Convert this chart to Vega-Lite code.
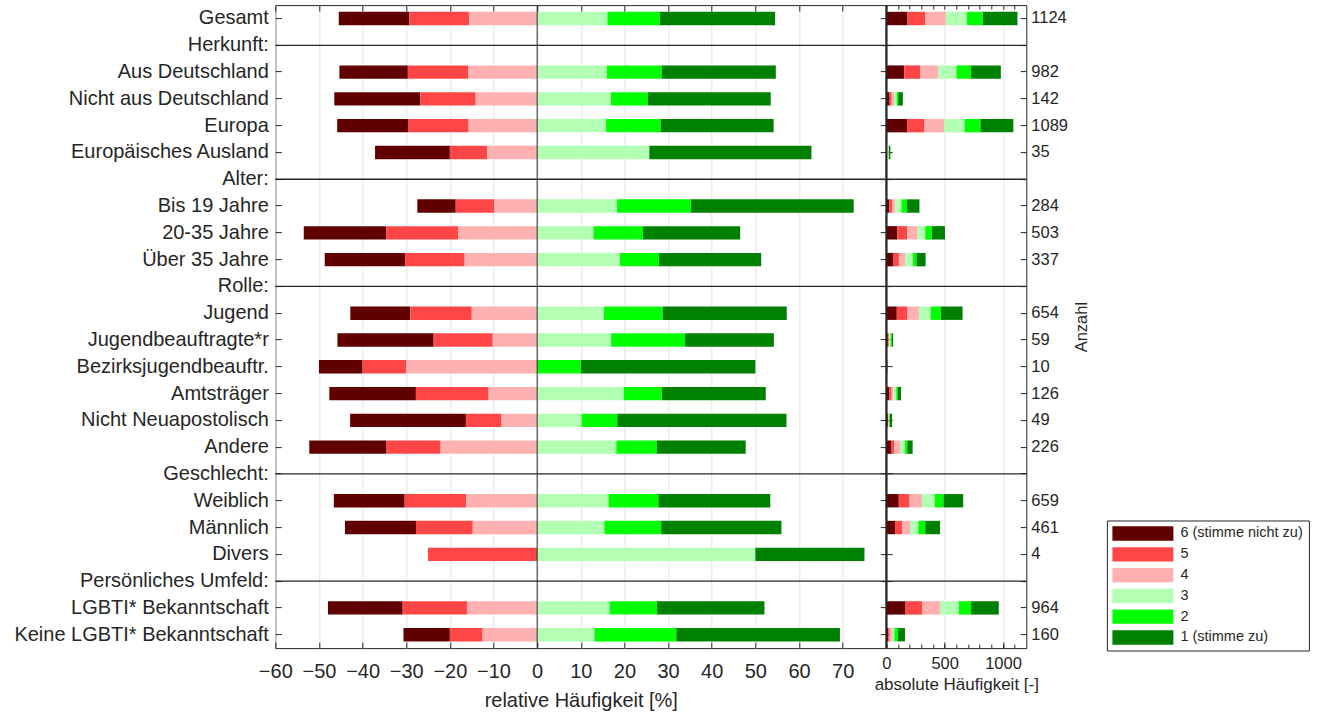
{
  "$schema": "https://vega.github.io/schema/vega-lite/v6.json",
  "padding": {"left": 12.3, "top": 3.1, "right": 5, "bottom": 5},
  "background": "white",
  "config": {
    "font": "Liberation Sans",
    "view": {"stroke": "#262626", "strokeWidth": 1},
    "axis": {
      "labelFont": "Liberation Sans",
      "titleFont": "Liberation Sans",
      "labelColor": "#262626",
      "titleColor": "#262626",
      "tickColor": "#262626",
      "titleFontWeight": "normal",
      "domain": false,
      "gridColor": "#e4e4e4",
      "gridWidth": 1
    },
    "legend": {"labelFont": "Liberation Sans", "labelColor": "#262626"}
  },
  "datasets": {
    "werte": [
      {"gruppe": "Gesamt", "stufe": 6, "rel": -16.19, "abs": 182},
      {"gruppe": "Gesamt", "stufe": 5, "rel": -13.70, "abs": 154},
      {"gruppe": "Gesamt", "stufe": 4, "rel": -15.57, "abs": 175},
      {"gruppe": "Gesamt", "stufe": 3, "rel": 16.10, "abs": 181},
      {"gruppe": "Gesamt", "stufe": 2, "rel": 12.01, "abs": 135},
      {"gruppe": "Gesamt", "stufe": 1, "rel": 26.42, "abs": 297},
      {"gruppe": "Aus Deutschland", "stufe": 6, "rel": -15.68, "abs": 154},
      {"gruppe": "Aus Deutschland", "stufe": 5, "rel": -13.85, "abs": 136},
      {"gruppe": "Aus Deutschland", "stufe": 4, "rel": -15.78, "abs": 155},
      {"gruppe": "Aus Deutschland", "stufe": 3, "rel": 15.99, "abs": 157},
      {"gruppe": "Aus Deutschland", "stufe": 2, "rel": 12.53, "abs": 123},
      {"gruppe": "Aus Deutschland", "stufe": 1, "rel": 26.17, "abs": 257},
      {"gruppe": "Nicht aus Deutschland", "stufe": 6, "rel": -19.72, "abs": 28},
      {"gruppe": "Nicht aus Deutschland", "stufe": 5, "rel": -12.68, "abs": 18},
      {"gruppe": "Nicht aus Deutschland", "stufe": 4, "rel": -14.08, "abs": 20},
      {"gruppe": "Nicht aus Deutschland", "stufe": 3, "rel": 16.90, "abs": 24},
      {"gruppe": "Nicht aus Deutschland", "stufe": 2, "rel": 8.45, "abs": 12},
      {"gruppe": "Nicht aus Deutschland", "stufe": 1, "rel": 28.17, "abs": 40},
      {"gruppe": "Europa", "stufe": 6, "rel": -16.35, "abs": 178},
      {"gruppe": "Europa", "stufe": 5, "rel": -13.77, "abs": 150},
      {"gruppe": "Europa", "stufe": 4, "rel": -15.70, "abs": 171},
      {"gruppe": "Europa", "stufe": 3, "rel": 15.79, "abs": 172},
      {"gruppe": "Europa", "stufe": 2, "rel": 12.49, "abs": 136},
      {"gruppe": "Europa", "stufe": 1, "rel": 25.90, "abs": 282},
      {"gruppe": "Europäisches Ausland", "stufe": 6, "rel": -17.14, "abs": 6},
      {"gruppe": "Europäisches Ausland", "stufe": 5, "rel": -8.57, "abs": 3},
      {"gruppe": "Europäisches Ausland", "stufe": 4, "rel": -11.43, "abs": 4},
      {"gruppe": "Europäisches Ausland", "stufe": 3, "rel": 25.71, "abs": 9},
      {"gruppe": "Europäisches Ausland", "stufe": 1, "rel": 37.14, "abs": 13},
      {"gruppe": "Bis 19 Jahre", "stufe": 6, "rel": -8.80, "abs": 25},
      {"gruppe": "Bis 19 Jahre", "stufe": 5, "rel": -8.80, "abs": 25},
      {"gruppe": "Bis 19 Jahre", "stufe": 4, "rel": -9.86, "abs": 28},
      {"gruppe": "Bis 19 Jahre", "stufe": 3, "rel": 18.31, "abs": 52},
      {"gruppe": "Bis 19 Jahre", "stufe": 2, "rel": 16.90, "abs": 48},
      {"gruppe": "Bis 19 Jahre", "stufe": 1, "rel": 37.32, "abs": 106},
      {"gruppe": "20-35 Jahre", "stufe": 6, "rel": -18.89, "abs": 95},
      {"gruppe": "20-35 Jahre", "stufe": 5, "rel": -16.50, "abs": 83},
      {"gruppe": "20-35 Jahre", "stufe": 4, "rel": -18.09, "abs": 91},
      {"gruppe": "20-35 Jahre", "stufe": 3, "rel": 12.92, "abs": 65},
      {"gruppe": "20-35 Jahre", "stufe": 2, "rel": 11.33, "abs": 57},
      {"gruppe": "20-35 Jahre", "stufe": 1, "rel": 22.27, "abs": 112},
      {"gruppe": "Über 35 Jahre", "stufe": 6, "rel": -18.40, "abs": 62},
      {"gruppe": "Über 35 Jahre", "stufe": 5, "rel": -13.65, "abs": 46},
      {"gruppe": "Über 35 Jahre", "stufe": 4, "rel": -16.62, "abs": 56},
      {"gruppe": "Über 35 Jahre", "stufe": 3, "rel": 18.99, "abs": 64},
      {"gruppe": "Über 35 Jahre", "stufe": 2, "rel": 8.90, "abs": 30},
      {"gruppe": "Über 35 Jahre", "stufe": 1, "rel": 23.44, "abs": 79},
      {"gruppe": "Jugend", "stufe": 6, "rel": -13.76, "abs": 90},
      {"gruppe": "Jugend", "stufe": 5, "rel": -14.07, "abs": 92},
      {"gruppe": "Jugend", "stufe": 4, "rel": -14.98, "abs": 98},
      {"gruppe": "Jugend", "stufe": 3, "rel": 15.29, "abs": 100},
      {"gruppe": "Jugend", "stufe": 2, "rel": 13.46, "abs": 88},
      {"gruppe": "Jugend", "stufe": 1, "rel": 28.44, "abs": 186},
      {"gruppe": "Jugendbeauftragte*r", "stufe": 6, "rel": -22.03, "abs": 13},
      {"gruppe": "Jugendbeauftragte*r", "stufe": 5, "rel": -13.56, "abs": 8},
      {"gruppe": "Jugendbeauftragte*r", "stufe": 4, "rel": -10.17, "abs": 6},
      {"gruppe": "Jugendbeauftragte*r", "stufe": 3, "rel": 16.95, "abs": 10},
      {"gruppe": "Jugendbeauftragte*r", "stufe": 2, "rel": 16.95, "abs": 10},
      {"gruppe": "Jugendbeauftragte*r", "stufe": 1, "rel": 20.34, "abs": 12},
      {"gruppe": "Bezirksjugendbeauftr.", "stufe": 6, "rel": -10.0, "abs": 1},
      {"gruppe": "Bezirksjugendbeauftr.", "stufe": 5, "rel": -10.0, "abs": 1},
      {"gruppe": "Bezirksjugendbeauftr.", "stufe": 4, "rel": -30.0, "abs": 3},
      {"gruppe": "Bezirksjugendbeauftr.", "stufe": 2, "rel": 10.0, "abs": 1},
      {"gruppe": "Bezirksjugendbeauftr.", "stufe": 1, "rel": 40.0, "abs": 4},
      {"gruppe": "Amtsträger", "stufe": 6, "rel": -19.84, "abs": 25},
      {"gruppe": "Amtsträger", "stufe": 5, "rel": -16.67, "abs": 21},
      {"gruppe": "Amtsträger", "stufe": 4, "rel": -11.11, "abs": 14},
      {"gruppe": "Amtsträger", "stufe": 3, "rel": 19.84, "abs": 25},
      {"gruppe": "Amtsträger", "stufe": 2, "rel": 8.73, "abs": 11},
      {"gruppe": "Amtsträger", "stufe": 1, "rel": 23.81, "abs": 30},
      {"gruppe": "Nicht Neuapostolisch", "stufe": 6, "rel": -26.53, "abs": 13},
      {"gruppe": "Nicht Neuapostolisch", "stufe": 5, "rel": -8.16, "abs": 4},
      {"gruppe": "Nicht Neuapostolisch", "stufe": 4, "rel": -8.16, "abs": 4},
      {"gruppe": "Nicht Neuapostolisch", "stufe": 3, "rel": 10.20, "abs": 5},
      {"gruppe": "Nicht Neuapostolisch", "stufe": 2, "rel": 8.16, "abs": 4},
      {"gruppe": "Nicht Neuapostolisch", "stufe": 1, "rel": 38.78, "abs": 19},
      {"gruppe": "Andere", "stufe": 6, "rel": -17.70, "abs": 40},
      {"gruppe": "Andere", "stufe": 5, "rel": -12.39, "abs": 28},
      {"gruppe": "Andere", "stufe": 4, "rel": -22.12, "abs": 50},
      {"gruppe": "Andere", "stufe": 3, "rel": 18.14, "abs": 41},
      {"gruppe": "Andere", "stufe": 2, "rel": 9.29, "abs": 21},
      {"gruppe": "Andere", "stufe": 1, "rel": 20.35, "abs": 46},
      {"gruppe": "Weiblich", "stufe": 6, "rel": -16.24, "abs": 107},
      {"gruppe": "Weiblich", "stufe": 5, "rel": -14.11, "abs": 93},
      {"gruppe": "Weiblich", "stufe": 4, "rel": -16.24, "abs": 107},
      {"gruppe": "Weiblich", "stufe": 3, "rel": 16.39, "abs": 108},
      {"gruppe": "Weiblich", "stufe": 2, "rel": 11.38, "abs": 75},
      {"gruppe": "Weiblich", "stufe": 1, "rel": 25.64, "abs": 169},
      {"gruppe": "Männlich", "stufe": 6, "rel": -16.27, "abs": 75},
      {"gruppe": "Männlich", "stufe": 5, "rel": -13.02, "abs": 60},
      {"gruppe": "Männlich", "stufe": 4, "rel": -14.75, "abs": 68},
      {"gruppe": "Männlich", "stufe": 3, "rel": 15.40, "abs": 71},
      {"gruppe": "Männlich", "stufe": 2, "rel": 13.02, "abs": 60},
      {"gruppe": "Männlich", "stufe": 1, "rel": 27.55, "abs": 127},
      {"gruppe": "Divers", "stufe": 5, "rel": -25.0, "abs": 1},
      {"gruppe": "Divers", "stufe": 3, "rel": 50.0, "abs": 2},
      {"gruppe": "Divers", "stufe": 1, "rel": 25.0, "abs": 1},
      {"gruppe": "LGBTI* Bekanntschaft", "stufe": 6, "rel": -17.12, "abs": 165},
      {"gruppe": "LGBTI* Bekanntschaft", "stufe": 5, "rel": -14.73, "abs": 142},
      {"gruppe": "LGBTI* Bekanntschaft", "stufe": 4, "rel": -16.08, "abs": 155},
      {"gruppe": "LGBTI* Bekanntschaft", "stufe": 3, "rel": 16.60, "abs": 160},
      {"gruppe": "LGBTI* Bekanntschaft", "stufe": 2, "rel": 10.89, "abs": 105},
      {"gruppe": "LGBTI* Bekanntschaft", "stufe": 1, "rel": 24.59, "abs": 237},
      {"gruppe": "Keine LGBTI* Bekanntschaft", "stufe": 6, "rel": -10.63, "abs": 17},
      {"gruppe": "Keine LGBTI* Bekanntschaft", "stufe": 5, "rel": -7.50, "abs": 12},
      {"gruppe": "Keine LGBTI* Bekanntschaft", "stufe": 4, "rel": -12.50, "abs": 20},
      {"gruppe": "Keine LGBTI* Bekanntschaft", "stufe": 3, "rel": 13.13, "abs": 21},
      {"gruppe": "Keine LGBTI* Bekanntschaft", "stufe": 2, "rel": 18.75, "abs": 30},
      {"gruppe": "Keine LGBTI* Bekanntschaft", "stufe": 1, "rel": 37.50, "abs": 60}
    ],
    "gruppen": [
      {"gruppe": "Gesamt", "n": 1124},
      {"gruppe": "Aus Deutschland", "n": 982},
      {"gruppe": "Nicht aus Deutschland", "n": 142},
      {"gruppe": "Europa", "n": 1089},
      {"gruppe": "Europäisches Ausland", "n": 35},
      {"gruppe": "Bis 19 Jahre", "n": 284},
      {"gruppe": "20-35 Jahre", "n": 503},
      {"gruppe": "Über 35 Jahre", "n": 337},
      {"gruppe": "Jugend", "n": 654},
      {"gruppe": "Jugendbeauftragte*r", "n": 59},
      {"gruppe": "Bezirksjugendbeauftr.", "n": 10},
      {"gruppe": "Amtsträger", "n": 126},
      {"gruppe": "Nicht Neuapostolisch", "n": 49},
      {"gruppe": "Andere", "n": 226},
      {"gruppe": "Weiblich", "n": 659},
      {"gruppe": "Männlich", "n": 461},
      {"gruppe": "Divers", "n": 4},
      {"gruppe": "LGBTI* Bekanntschaft", "n": 964},
      {"gruppe": "Keine LGBTI* Bekanntschaft", "n": 160}
    ],
    "abschnitte": [
      {"gruppe": "Herkunft:"},
      {"gruppe": "Alter:"},
      {"gruppe": "Rolle:"},
      {"gruppe": "Geschlecht:"},
      {"gruppe": "Persönliches Umfeld:"}
    ]
  },
  "hconcat": [
    {
      "width": 611,
      "height": 643,
      "layer": [
        {
          "data": {"name": "werte"},
          "transform": [{"filter": "datum.stufe >= 4"}],
          "mark": {"type": "bar", "height": {"band": 0.5}},
          "encoding": {
            "y": {
              "field": "gruppe", "type": "nominal", "sort": null,
              "scale": {"domain": ["Gesamt", "Herkunft:", "Aus Deutschland", "Nicht aus Deutschland", "Europa", "Europäisches Ausland", "Alter:", "Bis 19 Jahre", "20-35 Jahre", "Über 35 Jahre", "Rolle:", "Jugend", "Jugendbeauftragte*r", "Bezirksjugendbeauftr.", "Amtsträger", "Nicht Neuapostolisch", "Andere", "Geschlecht:", "Weiblich", "Männlich", "Divers", "Persönliches Umfeld:", "LGBTI* Bekanntschaft", "Keine LGBTI* Bekanntschaft"], "paddingInner": 0, "paddingOuter": 0},
              "axis": {"orient": "left", "title": null, "labelFontSize": 20, "tickSize": -6, "labelPadding": 13, "labelLimit": 400}
            },
            "x": {
              "field": "rel", "type": "quantitative", "stack": "zero",
              "scale": {"domain": [-60, 80], "nice": false, "zero": false},
              "axis": {"orient": "bottom", "values": [-60, -50, -40, -30, -20, -10, 0, 10, 20, 30, 40, 50, 60, 70], "format": "d", "title": "relative Häufigkeit [%]", "titleFontSize": 20, "labelFontSize": 20, "tickSize": -6, "labelPadding": 29.4, "labelBaseline": "middle", "labelFlush": false, "labelOverlap": false, "grid": true, "titleY": 52.4, "titleBaseline": "middle"}
            },
            "color": {
              "field": "stufe", "type": "ordinal",
              "scale": {"domain": [6, 5, 4, 3, 2, 1], "range": ["#600000", "#ff4646", "#ffb1b1", "#b3ffb3", "#00ff00", "#008000"]},
              "legend": {
                "orient": "none", "legendX": 831.6, "legendY": 515.4, "title": null, "direction": "vertical",
                "fillColor": "white", "strokeColor": "#262626", "padding": 5.5,
                "symbolType": "M-4.27,-1H4.27V1H-4.27Z", "symbolSize": 204, "symbolStrokeWidth": 0, "symbolOpacity": 1,
                "symbolOffset": 23, "labelOffset": 30,
                "labelFontSize": 14.5, "rowPadding": 4.8, "labelLimit": 300,
                "labelExpr": "datum.value == 6 ? '6 (stimme nicht zu)' : datum.value == 1 ? '1 (stimme zu)' : datum.label"
              }
            },
            "order": {"field": "stufe", "type": "quantitative", "sort": "ascending"}
          }
        },
        {
          "data": {"name": "werte"},
          "transform": [{"filter": "datum.stufe <= 3"}],
          "mark": {"type": "bar", "height": {"band": 0.5}},
          "encoding": {
            "y": {
              "field": "gruppe", "type": "nominal", "sort": null,
              "scale": {"domain": ["Gesamt", "Herkunft:", "Aus Deutschland", "Nicht aus Deutschland", "Europa", "Europäisches Ausland", "Alter:", "Bis 19 Jahre", "20-35 Jahre", "Über 35 Jahre", "Rolle:", "Jugend", "Jugendbeauftragte*r", "Bezirksjugendbeauftr.", "Amtsträger", "Nicht Neuapostolisch", "Andere", "Geschlecht:", "Weiblich", "Männlich", "Divers", "Persönliches Umfeld:", "LGBTI* Bekanntschaft", "Keine LGBTI* Bekanntschaft"], "paddingInner": 0, "paddingOuter": 0},
              "axis": {"orient": "right", "title": null, "labels": false, "tickSize": -6}
            },
            "x": {
              "field": "rel", "type": "quantitative", "stack": "zero",
              "scale": {"domain": [-60, 80], "nice": false, "zero": false},
              "axis": {"orient": "top", "values": [-60, -50, -40, -30, -20, -10, 0, 10, 20, 30, 40, 50, 60, 70], "title": null, "labels": false, "tickSize": -6, "grid": false}
            },
            "color": {
              "field": "stufe", "type": "ordinal",
              "scale": {"domain": [6, 5, 4, 3, 2, 1], "range": ["#600000", "#ff4646", "#ffb1b1", "#b3ffb3", "#00ff00", "#008000"]}
            },
            "order": {"field": "stufe", "type": "quantitative", "sort": "descending"}
          }
        },
        {
          "data": {"name": "abschnitte"},
          "mark": {"type": "rule", "color": "#262626", "strokeWidth": 1.3},
          "encoding": {
            "y": {
              "field": "gruppe", "type": "nominal", "sort": null,
              "scale": {"domain": ["Gesamt", "Herkunft:", "Aus Deutschland", "Nicht aus Deutschland", "Europa", "Europäisches Ausland", "Alter:", "Bis 19 Jahre", "20-35 Jahre", "Über 35 Jahre", "Rolle:", "Jugend", "Jugendbeauftragte*r", "Bezirksjugendbeauftr.", "Amtsträger", "Nicht Neuapostolisch", "Andere", "Geschlecht:", "Weiblich", "Männlich", "Divers", "Persönliches Umfeld:", "LGBTI* Bekanntschaft", "Keine LGBTI* Bekanntschaft"], "paddingInner": 0, "paddingOuter": 0},
              "axis": null
            }
          }
        },
        {
          "data": {"values": [{}]},
          "mark": {"type": "rule", "color": "#262626", "strokeWidth": 1},
          "encoding": {"x": {"datum": 0, "axis": null}}
        }
      ],
      "resolve": {"axis": {"x": "independent", "y": "independent"}}
    },
    {
      "width": 140,
      "height": 643,
      "layer": [
        {
          "data": {"name": "werte"},
          "mark": {"type": "bar", "height": {"band": 0.5}},
          "encoding": {
            "y": {
              "field": "gruppe", "type": "nominal", "sort": null,
              "scale": {"domain": ["Gesamt", "Herkunft:", "Aus Deutschland", "Nicht aus Deutschland", "Europa", "Europäisches Ausland", "Alter:", "Bis 19 Jahre", "20-35 Jahre", "Über 35 Jahre", "Rolle:", "Jugend", "Jugendbeauftragte*r", "Bezirksjugendbeauftr.", "Amtsträger", "Nicht Neuapostolisch", "Andere", "Geschlecht:", "Weiblich", "Männlich", "Divers", "Persönliches Umfeld:", "LGBTI* Bekanntschaft", "Keine LGBTI* Bekanntschaft"], "paddingInner": 0, "paddingOuter": 0},
              "axis": {"orient": "right", "labels": false, "tickSize": -6, "title": "Anzahl", "titleFontSize": 16.5, "titleAngle": 270, "titleX": 55.3, "titleY": 321.5, "titleBaseline": "middle", "titleAlign": "center"}
            },
            "x": {
              "field": "abs", "type": "quantitative", "stack": "zero",
              "scale": {"domain": [0, 1200], "nice": false},
              "axis": {"orient": "bottom", "values": [0, 500, 1000], "format": "d", "title": "absolute Häufigkeit [-]", "titleFontSize": 17, "labelFontSize": 16.5, "tickSize": -6, "labelPadding": 21.1, "labelBaseline": "middle", "labelFlush": false, "labelOverlap": false, "grid": true, "titleY": 36.4, "titleBaseline": "middle"}
            },
            "color": {
              "field": "stufe", "type": "ordinal",
              "scale": {"domain": [6, 5, 4, 3, 2, 1], "range": ["#600000", "#ff4646", "#ffb1b1", "#b3ffb3", "#00ff00", "#008000"]}
            },
            "order": {"field": "stufe", "type": "quantitative", "sort": "descending"}
          }
        },
        {
          "data": {"values": [{}]},
          "mark": {"type": "rule", "color": "#262626", "strokeWidth": 2},
          "encoding": {
            "x": {"datum": 0, "axis": {"orient": "top", "values": [0, 100, 200, 300, 400, 500, 600, 700, 800, 900, 1000, 1100], "title": null, "labels": false, "tickSize": -4, "grid": false}}
          }
        },
        {
          "data": {"name": "gruppen"},
          "mark": {"type": "text", "align": "left", "baseline": "middle", "dx": 5, "fontSize": 16.5, "color": "#262626"},
          "encoding": {
            "y": {
              "field": "gruppe", "type": "nominal", "sort": null,
              "scale": {"domain": ["Gesamt", "Herkunft:", "Aus Deutschland", "Nicht aus Deutschland", "Europa", "Europäisches Ausland", "Alter:", "Bis 19 Jahre", "20-35 Jahre", "Über 35 Jahre", "Rolle:", "Jugend", "Jugendbeauftragte*r", "Bezirksjugendbeauftr.", "Amtsträger", "Nicht Neuapostolisch", "Andere", "Geschlecht:", "Weiblich", "Männlich", "Divers", "Persönliches Umfeld:", "LGBTI* Bekanntschaft", "Keine LGBTI* Bekanntschaft"], "paddingInner": 0, "paddingOuter": 0},
              "axis": {"orient": "left", "labels": false, "tickSize": -6, "title": null}
            },
            "x": {"datum": 1200, "axis": {"orient": "bottom", "values": [0, 100, 200, 300, 400, 500, 600, 700, 800, 900, 1000, 1100], "title": null, "labels": false, "tickSize": -4, "grid": false}},
            "text": {"field": "n", "type": "quantitative", "format": "d"}
          }
        },
        {
          "data": {"name": "abschnitte"},
          "mark": {"type": "rule", "color": "#262626", "strokeWidth": 1.3},
          "encoding": {
            "y": {
              "field": "gruppe", "type": "nominal", "sort": null,
              "scale": {"domain": ["Gesamt", "Herkunft:", "Aus Deutschland", "Nicht aus Deutschland", "Europa", "Europäisches Ausland", "Alter:", "Bis 19 Jahre", "20-35 Jahre", "Über 35 Jahre", "Rolle:", "Jugend", "Jugendbeauftragte*r", "Bezirksjugendbeauftr.", "Amtsträger", "Nicht Neuapostolisch", "Andere", "Geschlecht:", "Weiblich", "Männlich", "Divers", "Persönliches Umfeld:", "LGBTI* Bekanntschaft", "Keine LGBTI* Bekanntschaft"], "paddingInner": 0, "paddingOuter": 0},
              "axis": null
            }
          }
        }
      ],
      "resolve": {"axis": {"x": "independent", "y": "independent"}}
    }
  ],
  "spacing": 0,
  "bounds": "flush",
  "resolve": {"scale": {"color": "shared"}}
}
